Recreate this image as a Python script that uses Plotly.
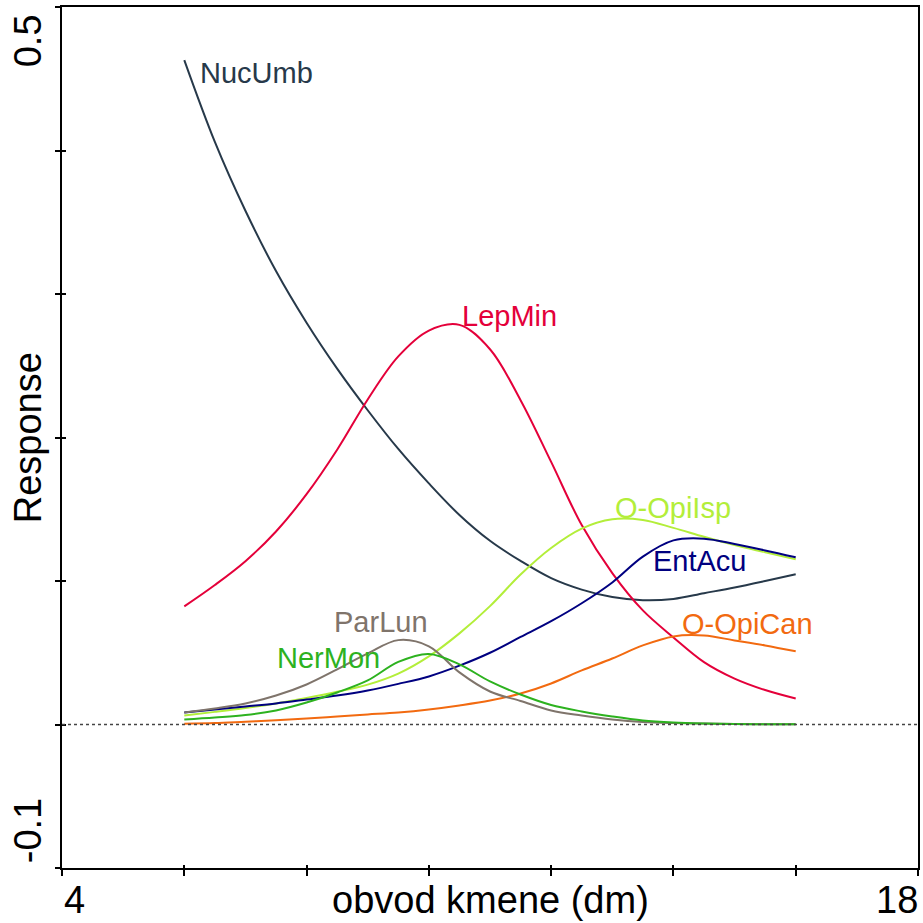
import plotly.graph_objects as go

# stem circumference (dm)
girth = [6.0, 6.5, 7.0, 7.5, 8.0, 8.5, 9.0, 9.5, 10.0, 10.5, 11.0,
         11.5, 12.0, 12.5, 13.0, 13.5, 14.0, 14.5, 15.0, 15.5, 16.0]

nuc_umb = [0.463, 0.406, 0.358, 0.316, 0.280, 0.248, 0.219, 0.192, 0.168, 0.146, 0.128,
           0.114, 0.102, 0.094, 0.0888, 0.0866, 0.0875, 0.0915, 0.0955, 0.100, 0.1047]
lep_min = [0.0823, 0.0972, 0.1138, 0.1345, 0.1605, 0.1915, 0.2265, 0.2565, 0.2745, 0.2785, 0.2615,
           0.226, 0.183, 0.139, 0.1055, 0.0795, 0.0607, 0.0435, 0.032, 0.024, 0.0181]
o_opi_isp = [0.0063, 0.0088, 0.0115, 0.0147, 0.0185, 0.0228, 0.0278, 0.0355, 0.0475, 0.0635, 0.0825,
             0.1045, 0.123, 0.1365, 0.143, 0.1425, 0.137, 0.1308, 0.125, 0.120, 0.1151]
ent_acu = [0.0084, 0.0105, 0.0126, 0.0147, 0.0174, 0.0202, 0.0237, 0.0283, 0.0335, 0.041, 0.050,
           0.061, 0.072, 0.0845, 0.099, 0.117, 0.1283, 0.1295, 0.1258, 0.1213, 0.1165]
o_opi_can = [0.0005, 0.001, 0.002, 0.003, 0.0042, 0.0056, 0.007, 0.0084, 0.0105, 0.0133, 0.0167,
             0.0216, 0.0286, 0.0377, 0.046, 0.0551, 0.0614, 0.062, 0.0586, 0.0551, 0.051]
par_lun = [0.0084, 0.0112, 0.0147, 0.0202, 0.0279, 0.0384, 0.0495, 0.0588, 0.0545, 0.0363, 0.023,
           0.0164, 0.0098, 0.0063, 0.0035, 0.0017, 0.001, 0.0007, 0.0004, 0.0002, 0.0001]
ner_mon = [0.0035, 0.0049, 0.0066, 0.0098, 0.0153, 0.0223, 0.0307, 0.0436, 0.0492, 0.0419, 0.030,
           0.0209, 0.0136, 0.0091, 0.0056, 0.0028, 0.0014, 0.0007, 0.0003, 0.0002, 0.0001]

species = ["NucUmb", "LepMin", "O-OpiIsp", "EntAcu", "O-OpiCan", "ParLun", "NerMon"]
series = [nuc_umb, lep_min, o_opi_isp, ent_acu, o_opi_can, par_lun, ner_mon]
colors = ["#27394A", "#E4003A", "#B3EE3A", "#000080", "#F26A10", "#7F746B", "#2DB21F"]

# label anchor (left edge x, vertical centre y) in data units
label_x = [6.22, 10.51, 13.01, 13.63, 14.10, 8.42, 7.48]
label_y = [0.454, 0.2847, 0.1507, 0.1137, 0.0698, 0.0712, 0.046]

x_ticks = [4, 6, 8, 10, 12, 14, 16, 18]
y_ticks = [-0.1, 0.0, 0.1, 0.2, 0.3, 0.4, 0.5]

FONT = "Liberation Sans, Arial, sans-serif"

fig = go.Figure()

for name, ys, col in zip(species, series, colors):
    fig.add_trace(go.Scatter(
        x=girth, y=ys, mode="lines", name=name,
        line=dict(color=col, width=2, shape="spline", smoothing=1.0),
        hoverinfo="x+y+name",
    ))

# invisible helper trace so the inner-tick axes are drawn
fig.add_trace(go.Scatter(x=[4, 18], y=[-0.1, 0.5], xaxis="x2", yaxis="y2",
                         mode="markers", marker=dict(opacity=0), hoverinfo="skip"))

for name, lx, ly, col in zip(species, label_x, label_y, colors):
    fig.add_annotation(x=lx, y=ly, xref="x", yref="y", text=name, showarrow=False,
                       xanchor="left", yanchor="middle",
                       font=dict(family=FONT, size=29, color=col))

# zero reference line
fig.add_shape(type="line", xref="paper", yref="y", x0=0, x1=1, y0=0, y1=0,
              line=dict(color="#444444", width=1.5, dash="dot"))

# end tick labels and axis titles
tick_font = dict(family=FONT, size=38, color="black")
bottom_y = -0.0375
left_x = -0.040
fig.add_annotation(x=4, y=bottom_y, xref="x", yref="paper", text="4", showarrow=False,
                   xanchor="left", yanchor="middle", font=tick_font)
fig.add_annotation(x=18, y=bottom_y, xref="x", yref="paper", text="18", showarrow=False,
                   xanchor="right", yanchor="middle", xshift=2, font=tick_font)
fig.add_annotation(x=left_x, y=-0.1, xref="paper", yref="y", text="-0.1", showarrow=False,
                   xanchor="center", yanchor="bottom", textangle=-90, yshift=3,
                   font=tick_font)
fig.add_annotation(x=left_x, y=0.5, xref="paper", yref="y", text="0.5", showarrow=False,
                   xanchor="center", yanchor="top", textangle=-90, yshift=-5,
                   font=tick_font)
fig.add_annotation(x=0.5, y=bottom_y, xref="paper", yref="paper", text="obvod kmene (dm)",
                   showarrow=False, xanchor="center", yanchor="middle", font=tick_font)
fig.add_annotation(x=left_x, y=0.5, xref="paper", yref="paper", text="Response",
                   showarrow=False, xanchor="center", yanchor="middle", textangle=-90,
                   font=tick_font)

axis_common = dict(showgrid=False, zeroline=False, showticklabels=False,
                   tickcolor="black", tickwidth=2)

fig.update_layout(
    width=923, height=923,
    margin=dict(l=62, r=3, t=7, b=55),
    paper_bgcolor="white", plot_bgcolor="white",
    showlegend=False,
    xaxis=dict(range=[4, 18], tickvals=x_ticks, ticks="outside", ticklen=6,
               showline=True, linecolor="black", linewidth=2, mirror=True, **axis_common),
    yaxis=dict(range=[-0.1, 0.5], tickvals=y_ticks, ticks="outside", ticklen=5,
               showline=True, linecolor="black", linewidth=2, mirror=True, **axis_common),
    xaxis2=dict(range=[4, 18], tickvals=x_ticks, ticks="inside", ticklen=3,
                overlaying="x", anchor="y2", side="bottom", showline=False, **axis_common),
    yaxis2=dict(range=[-0.1, 0.5], tickvals=y_ticks, ticks="inside", ticklen=4,
                overlaying="y", anchor="x2", side="left", showline=False, **axis_common),
)

fig.write_html("out.html")
